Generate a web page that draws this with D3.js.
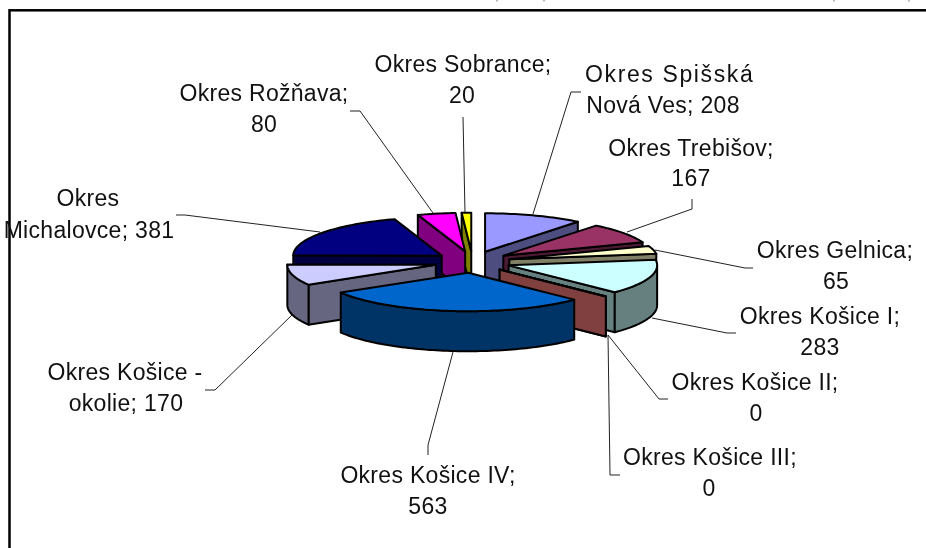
<!doctype html>
<html>
<head>
	<meta charset="utf-8">
	<script src="https://d3js.org/d3.v7.min.js"></script>
	<style>
		html, body { margin: 0; background: #fff; overflow: hidden; }
		svg { display: block; filter: blur(0.3px); }
		text { font-family: "Liberation Sans", Arial, sans-serif; font-size: 23px; letter-spacing: 0.3px; fill: #111; text-anchor: middle; }
	</style>
</head>
<body>
	<svg id="chart" width="926" height="548"></svg>
	<script>
		// values, clockwise from twelve o'clock
		var districts = ["Okres Spišská Nová Ves", "Okres Trebišov", "Okres Gelnica", "Okres Košice I", "Okres Košice II",
			"Okres Košice III", "Okres Košice IV", "Okres Košice - okolie", "Okres Michalovce", "Okres Rožňava", "Okres Sobrance"];
		var counts = [208, 167, 65, 283, 0, 0, 563, 170, 381, 80, 20];
		var labelLines = [
			["Okres Spišská", "Nová Ves; 208"], ["Okres Trebišov;", "167"], ["Okres Gelnica;", "65"], ["Okres Košice I;", "283"],
			["Okres Košice II;", "0"], ["Okres Košice III;", "0"], ["Okres Košice IV;", "563"], ["Okres Košice -", "okolie; 170"],
			["Okres", "Michalovce; 381"], ["Okres Rožňava;", "80"], ["Okres Sobrance;", "20"]
		];

		// styling and placement, same order as above
		var colours = ["#9999ff", "#993366", "#ffffcc", "#ccffff", "#660066", "#ff8080", "#0066cc", "#ccccff", "#000080", "#ff00ff", "#ffff00"];
		// x, baseline, and a forced width where the original runs wider
		var labelPos = [
			[[669, 82, 168], [663, 113]], [[691, 156], [691, 186]], [[835, 258], [836, 289]], [[820, 324], [820, 355]],
			[[755, 390], [756, 421]], [[710, 465], [709, 496]], [[428, 483], [428, 514]], [[125, 380], [126, 411]],
			[[88, 206], [89, 238]], [[264, 101], [264, 132]], [[463, 72], [462, 103]]
		];
		var leaders = [
			[[581, 92], [571, 92], [533, 214]], [[692, 199], [692, 209], [627, 232]], [[753, 268], [745, 268], [655, 250]],
			[[736, 333], [727, 333], [652, 318]], [[668, 399], [659, 399], [608, 335]], [[620, 475], [610, 475], [608, 335]],
			[[428, 455], [428, 445], [453, 352]], [[205, 390], [215, 390], [292, 315]], [[176, 215], [185, 215], [320, 232]],
			[[350, 111], [360, 111], [433, 213]], [[463, 117], [465, 213]]
		];
		// back to front
		var drawOrder = [0, 1, 2, 10, 9, 8, 7, 3, 4, 5, 6];

		var svg = d3.select("#chart");
		var cx = 472.5, cy = 262, rx = 148.5, ry = 38.5, depth = 40;
		var explode = {x: 38 / rx, y: 10.8 / ry};

		var xScale = d3.scaleLinear().domain([-1, 1]).range([cx - rx, cx + rx]);
		var yScale = d3.scaleLinear().domain([-1, 1]).range([cy - ry, cy + ry]);

		var slices = d3.pie().sort(null).value(d => d)(counts);
		var line = d3.line();

		// frame, runs off the right and bottom of the picture
		svg.append("rect")
			.attr("x", 9.5).attr("y", 10.3)
			.attr("width", 1000).attr("height", 1000)
			.attr("fill", "#fff").attr("stroke", "#000").attr("stroke-width", 2.5);

		// descenders of the cut off title
		[497, 544, 834, 909].forEach(function(x) {
			svg.append("line").attr("x1", x).attr("x2", x).attr("y1", 0).attr("y2", 1.5)
				.attr("stroke", "#777").attr("stroke-width", 1);
		});

		function point(s, angle, r, drop) {
			var mid = (s.startAngle + s.endAngle) / 2;
			return [
				xScale(explode.x * Math.sin(mid) + r * Math.sin(angle)),
				yScale(-explode.y * Math.cos(mid) - r * Math.cos(angle)) + (drop || 0)
			];
		}

		function rim(s, a0, a1, drop) {
			var n = Math.max(2, Math.ceil((a1 - a0) * 40));
			return d3.range(n + 1).map(i => point(s, a0 + (a1 - a0) * i / n, 1, drop));
		}

		function wall(s, angle) {
			return [point(s, angle, 0), point(s, angle, 1), point(s, angle, 1, depth), point(s, angle, 0, depth)];
		}

		function half(c) {
			var k = d3.rgb(c);
			return d3.rgb(k.r / 2, k.g / 2, k.b / 2).formatHex();
		}

		function piece(g, pts, fill) {
			g.append("path")
				.attr("d", line(pts) + "Z")
				.attr("fill", fill)
				.attr("stroke", "#000")
				.attr("stroke-width", 2)
				.attr("stroke-linejoin", "round");
		}

		// leader lines go under the pie
		svg.append("g").selectAll("path")
			.data(leaders)
			.enter()
			.append("path")
				.attr("d", d => line(d))
				.attr("fill", "none")
				.attr("stroke", "#222")
				.attr("stroke-width", 1);

		drawOrder.forEach(function(i) {
			var s = slices[i];
			var g = svg.append("g").attr("class", "slice").attr("data-name", districts[i]);
			var side = half(colours[i]);
			var a0 = s.startAngle, a1 = s.endAngle;

			if (Math.sin(a0) < 0) piece(g, wall(s, a0), side);
			if (Math.sin(a1) > 0) piece(g, wall(s, a1), side);

			var from = Math.max(a0, Math.PI / 2), to = Math.min(a1, Math.PI * 1.5);
			if (to > from) {
				piece(g, rim(s, from, to, 0).concat(rim(s, from, to, depth).reverse()), side);
			}
			piece(g, [point(s, a0, 0)].concat(rim(s, a0, a1, 0)), colours[i]);
		});

		labelLines.forEach(function(lines, i) {
			lines.forEach(function(t, j) {
				var p = labelPos[i][j];
				var label = svg.append("text")
					.attr("x", p[0])
					.attr("y", p[1])
					.text(t);
				if (p[2]) label.attr("textLength", p[2]);
			});
		});
	</script>
</body>
</html>
